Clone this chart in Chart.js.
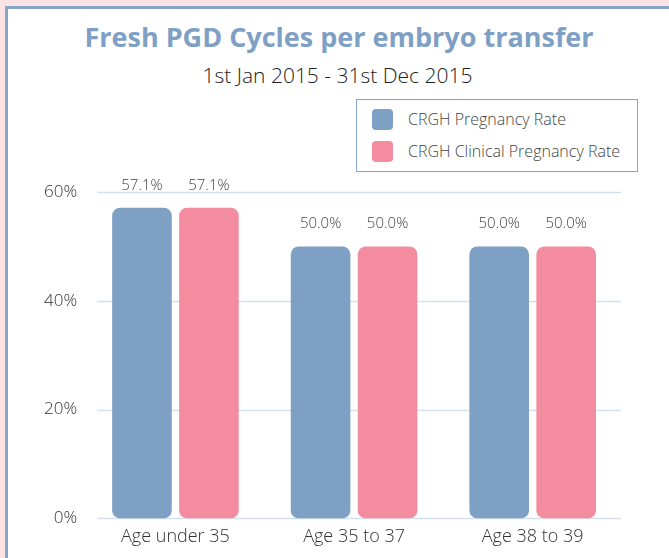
<!DOCTYPE html>
<html>
<head>
<meta charset="utf-8">
<script src="https://cdn.jsdelivr.net/npm/chart.js@4/dist/chart.umd.min.js"></script>
<style>
  html, body { margin: 0; padding: 0; }
  body { width: 669px; height: 558px; background: #fde4e4; position: relative; overflow: hidden; font-family: "Open Sans", sans-serif; }
  .card { position: absolute; left: 5px; top: 6px; width: 720px; height: 620px; background: #fff; border: 3px solid #86a5c9; box-sizing: border-box; }
  .wrap { position: absolute; left: 0; top: 0; width: 669px; height: 558px; }
  .title { position: absolute; left: 0; top: 21px; width: 678px; text-align: center; font-size: 27px; line-height: 32px; font-weight: bold; color: #7fa0c5; }
  .subtitle { position: absolute; left: 0; top: 62px; width: 675px; text-align: center; font-size: 21px; line-height: 26px; font-weight: 300; color: #222; }
  .legend { position: absolute; left: 356px; top: 99px; width: 282px; height: 73px; border: 1.5px solid #86a5c9; box-sizing: border-box; background: #fff; }
  .legend .item { position: absolute; left: 15px; height: 21px; line-height: 21px; font-size: 16px; color: #444; font-weight: 300; }
  .legend .sw { display: inline-block; width: 21px; height: 21px; border-radius: 4px; vertical-align: top; margin-right: 15px; }
</style>
</head>
<body>
<div class="card"></div>
<div class="title">Fresh PGD Cycles per embryo transfer</div>
<div class="subtitle">1st Jan 2015 - 31st Dec 2015</div>
<div class="wrap"><canvas id="chart" width="669" height="558"></canvas></div>
<div class="legend" id="legend"></div>
<script>
const categories = ['Age under 35', 'Age 35 to 37', 'Age 38 to 39'];
const pregnancyRate = [57.1, 50.0, 50.0];
const clinicalRate = [57.1, 50.0, 50.0];
const yTicks = [0, 20, 40, 60];

const seriesNames = ['CRGH Pregnancy Rate', 'CRGH Clinical Pregnancy Rate'];
const colors = ['#7fa0c5', '#f48ca0'];

/* ---------- HTML legend ---------- */
document.getElementById('legend').innerHTML = seriesNames.map((name, i) => `
  <div class="item" style="top:${9 + i * 32}px"><span class="sw" style="background:${colors[i]}"></span>${name}</div>
`).join('');

/* ---------- gridlines, starting a little right of the axis ---------- */
const gridPlugin = {
  id: 'grid',
  beforeDatasetsDraw(chart) {
    const { ctx, chartArea, scales } = chart;
    ctx.save();
    ctx.strokeStyle = '#d3e1ee';
    ctx.lineWidth = 1.5;
    scales.y.ticks.forEach(t => {
      const y = Math.round(scales.y.getPixelForValue(t.value)) + 0.5;
      ctx.beginPath();
      ctx.moveTo(chartArea.left + 11, y);
      ctx.lineTo(chartArea.right - 1, y);
      ctx.stroke();
    });
    ctx.restore();
  }
};

/* ---------- value labels above bars ---------- */
const valueLabels = {
  id: 'valueLabels',
  afterDatasetsDraw(chart) {
    const { ctx } = chart;
    ctx.save();
    ctx.font = '300 15px "Open Sans"';
    ctx.fillStyle = '#444';
    ctx.textAlign = 'center';
    ctx.textBaseline = 'bottom';
    chart.data.datasets.forEach((ds, di) => {
      chart.getDatasetMeta(di).data.forEach((bar, i) => {
        ctx.fillText(ds.data[i].toFixed(1) + '%', bar.x, bar.y - 15);
      });
    });
    ctx.restore();
  }
};

new Chart(document.getElementById('chart'), {
  type: 'bar',
  data: {
    labels: categories,
    datasets: [
      { label: seriesNames[0], data: pregnancyRate, backgroundColor: colors[0] },
      { label: seriesNames[1], data: clinicalRate, backgroundColor: colors[1] }
    ]
  },
  options: {
    responsive: false,
    animation: false,
    layout: { padding: { left: 35, right: 47, bottom: 2, top: 192 } },
    datasets: {
      bar: { categoryPercentage: 0.75, barPercentage: 0.89, borderRadius: 8, borderSkipped: false }
    },
    plugins: {
      legend: { display: false },
      tooltip: { enabled: false }
    },
    scales: {
      x: {
        grid: { display: false, drawTicks: false },
        border: { display: false },
        ticks: { color: '#333', padding: 8, font: { family: '"Open Sans"', size: 18, weight: 300 } }
      },
      y: {
        min: yTicks[0],
        max: yTicks[yTicks.length - 1],
        afterBuildTicks: (axis) => { axis.ticks = yTicks.map(v => ({ value: v })); },
        grid: { display: false, drawTicks: false },
        border: { display: false },
        ticks: {
          color: '#333',
          padding: 9,
          font: { family: '"Open Sans"', size: 17, weight: 300 },
          callback: (v) => v + '%'
        }
      }
    }
  },
  plugins: [gridPlugin, valueLabels]
});
</script>
</body>
</html>
